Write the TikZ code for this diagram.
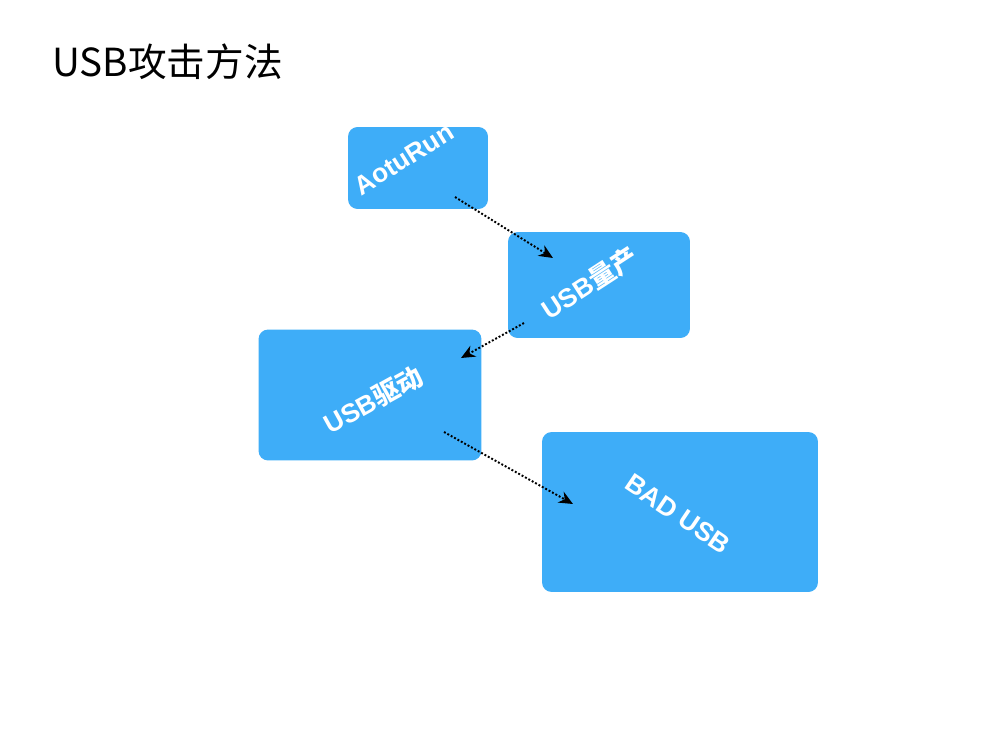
\documentclass[tikz,border=0pt]{standalone}
\usepackage{fontspec}
\setmainfont{Liberation Sans}
\newfontfamily\cjk{Noto Sans CJK SC}
\usetikzlibrary{arrows.meta,shapes,positioning}
\definecolor{boxblue}{RGB}{62,173,248}

\begin{document}
\begin{tikzpicture}[x=0.02cm,y=-0.02cm]

					\tikzstyle{card} = [
						rectangle,
						rounded corners=5.5pt,
						fill=boxblue,
						inner sep=0pt
					]
					\tikzstyle{cardtext} = [
						text=white,
						font=\bfseries\fontsize{15}{18}\selectfont,
						inner sep=0pt
					]
					\tikzstyle{flow} = [
						line width=1.1pt,
						dash pattern=on 1.1pt off 1.1pt,
						-{Stealth[length=8pt,width=7pt]}
					]

					\useasboundingbox [fill=white] (0,0) rectangle (1000,750);

					\node (title) at (46,77) [anchor=base west, font=\cjk\fontsize{22}{26}\selectfont] {USB攻击方法};

					\node (aotu) at (418,168) [card, minimum width=2.8cm, minimum height=1.64cm] {};
					\node (prod) at (599,285) [card, minimum width=3.64cm, minimum height=2.12cm] {};
					\node (drv) at (370,395) [card, minimum width=4.46cm, minimum height=2.62cm] {};
					\node (bad) at (680,512) [card, minimum width=5.52cm, minimum height=3.2cm] {};

					\node (aotutxt) at (404,159) [cardtext, rotate=32] {AotuRun};
					\node (prodtxt) at (590,283) [cardtext, rotate=33] {USB{\cjk 量产}};
					\node (drvtxt) at (373,400) [cardtext, rotate=29] {USB{\cjk 驱动}};
					\node (badtxt) at (678,514) [cardtext, rotate=-34] {BAD USB};

					\coordinate (aotuout) at (455,197);
					\coordinate (prodin) at (553,258);
					\coordinate (prodout) at (524,323);
					\coordinate (drvin) at (461,358);
					\coordinate (drvout) at (444,432);
					\coordinate (badin) at (573,504);

					\draw [flow] (aotuout) -- (prodin);
					\draw [flow] (prodout) -- (drvin);
					\draw [flow] (drvout) -- (badin);

				\end{tikzpicture}
\end{document}
